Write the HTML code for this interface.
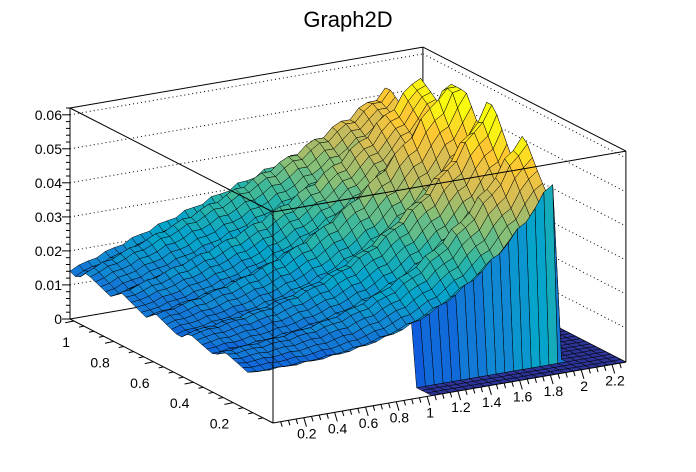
<!DOCTYPE html>
<html><head><meta charset="utf-8">
<style>
html,body{margin:0;padding:0;background:#fff;}
svg{display:block;font-family:"Liberation Sans",Arial,sans-serif;}
</style></head>
<body>
<svg id="s" width="696" height="472" viewBox="0 0 696 472" xmlns="http://www.w3.org/2000/svg">
<rect width="696" height="472" fill="#fff"/>
<text x="348" y="27" font-size="22" text-anchor="middle">Graph2D</text>
<g id="back" stroke="#000" stroke-width="1" fill="none"></g>
<g id="surf" stroke="#000" stroke-width="0.5"></g>
<g id="front" stroke="#000" stroke-width="1" fill="none"></g>
<g id="labels" font-size="14" fill="#000"></g>
</svg>
<script>
(function(){
var NS="http://www.w3.org/2000/svg";
var XM=2.29, YM=1.02, ZM=0.062;
function P(x,y,z){return [273+154.1*x-199*y, 423-26.6*x-102*y-3403*z];}
function el(p,t,a){var e=document.createElementNS(NS,t);for(var k in a)e.setAttribute(k,a[k]);document.getElementById(p).appendChild(e);return e;}
function line(g,a,b,extra){var o={x1:a[0].toFixed(1),y1:a[1].toFixed(1),x2:b[0].toFixed(1),y2:b[1].toFixed(1)};if(extra)for(var k in extra)o[k]=extra[k];return el(g,'line',o);}
line('back',P(0,YM,0),P(XM,YM,0));
line('back',P(XM,YM,0),P(XM,0,0));
line('back',P(0,YM,0),P(0,YM,ZM));
line('back',P(XM,YM,0),P(XM,YM,ZM));
line('back',P(0,YM,ZM),P(XM,YM,ZM));
line('back',P(XM,YM,ZM),P(XM,0,ZM));
line('back',P(XM,0,0),P(XM,0,ZM));
for(var z=0.01;z<0.0615;z+=0.01){
  line('back',P(0,YM,z),P(XM,YM,z),{'stroke-dasharray':'1,3'});
  line('back',P(XM,YM,z),P(XM,0,z),{'stroke-dasharray':'1,3'});
}
var NX=40,NY=40;
var bird=[[0.2082,0.1664,0.5293],[0.0592,0.3599,0.8684],[0.0780,0.5041,0.8385],[0.0232,0.6419,0.7914],[0.1802,0.7178,0.6425],[0.5301,0.7492,0.4662],[0.8186,0.7328,0.3499],[0.9956,0.7862,0.1968],[0.9764,0.9832,0.0539]];
function col(t){t=Math.max(0,Math.min(1,t));t=Math.floor(t*20)/20+0.025;t=Math.min(1,t);var s=t*8,i=Math.min(7,Math.floor(s)),f=s-i;var c=[0,1,2].map(function(k){return Math.round(255*(bird[i][k]+(bird[i+1][k]-bird[i][k])*f));});return 'rgb('+c.join(',')+')';}
function f(x,y){
  if(y<0.09) return x<1?null:0;
  if(x>1.97) return 0;
  var s=(y*5.8+0.3)%1;
  var ridge=1+0.22*(s<0.75? s/0.75 : (1-s)/0.25)-0.11;
  var fr=0.012+0.0056*x*x*x;
  var md=0.013+0.009*x+0.0048*x*x*x;
  var bk=0.015+0.016*x;
  var base;
  if(y<0.6){var t=(y-0.1)/0.5;base=fr+(md-fr)*t;}
  else {var t=(y-0.6)/0.42;base=md+(bk-md)*t;}
  var v=base*ridge*(1+0.02*Math.sin(x*37+y*11));
  return Math.min(v,0.066);
}
var Z=[];
for(var i=0;i<=NX;i++){Z[i]=[];for(var j=0;j<=NY;j++){Z[i][j]=f(i*XM/NX,j*YM/NY);}}
var quads=[];
for(var i=0;i<NX;i++)for(var j=0;j<NY;j++){
  var a=Z[i][j],b=Z[i+1][j],c=Z[i+1][j+1],d=Z[i][j+1];
  if(a===null||b===null||c===null||d===null)continue;
  var x0=i*XM/NX,x1=(i+1)*XM/NX,y0=j*YM/NY,y1=(j+1)*YM/NY;
  var pts=[P(x0,y0,a),P(x1,y0,b),P(x1,y1,c),P(x0,y1,d)];
  var depth=26.6*(x0+x1)/2+102*(y0+y1)/2;
  quads.push({pts:pts,z:(a+b+c+d)/4,d:depth});
}
quads.sort(function(p,q){return q.d-p.d;});
quads.forEach(function(q){
  el('surf','polygon',{points:q.pts.map(function(p){return p[0].toFixed(1)+','+p[1].toFixed(1);}).join(' '),fill:col(q.z/ZM)});
});
line('front',P(0,0,0),P(0,0,ZM));
line('front',P(0,0,ZM),P(0,YM,ZM));
line('front',P(0,0,ZM),P(XM,0,ZM));
line('front',P(0,0,0),P(XM,0,0));
line('front',P(0,0,0),P(0,YM,0));
for(var k=0;k<=31;k++){var zz=k*0.002;var p=P(0,YM,zz);var L=(k%5==0)?8:4;line('front',[p[0]-L,p[1]],p);}
for(var k=0;k<=6;k++){var p=P(0,YM,k*0.01);var t=el('labels','text',{x:(p[0]-8).toFixed(1),y:(p[1]+5).toFixed(1),'text-anchor':'end'});t.textContent=k==0?'0':(k*0.01).toFixed(2);}
for(var k=1;k<=45;k++){var xx=k*0.05;if(xx>XM)break;var p=P(xx,0,0);var L=(k%4==0)?9:5;line('front',p,[p[0]+0.3*L,p[1]+L]);}
for(var k=1;k<=11;k++){var xx=k*0.2;var p=P(xx,0,0);var t=el('labels','text',{x:(p[0]+3).toFixed(1),y:(p[1]+21).toFixed(1),'text-anchor':'middle'});t.textContent=(Math.abs(xx-Math.round(xx))<1e-6)?String(Math.round(xx)):xx.toFixed(1);}
for(var k=1;k<=20;k++){var yy=k*0.05;var p=P(0,yy,0);var L=(k%4==0)?9:5;line('front',p,[p[0]-L*0.98,p[1]+L*0.2]);}
for(var k=1;k<=5;k++){var yy=k*0.2;var p=P(0,yy,0);var t=el('labels','text',{x:(p[0]-4).toFixed(1),y:(p[1]+26).toFixed(1),'text-anchor':'end'});t.textContent=(k==5)?'1':yy.toFixed(1);}
})();
</script>
</body></html>
